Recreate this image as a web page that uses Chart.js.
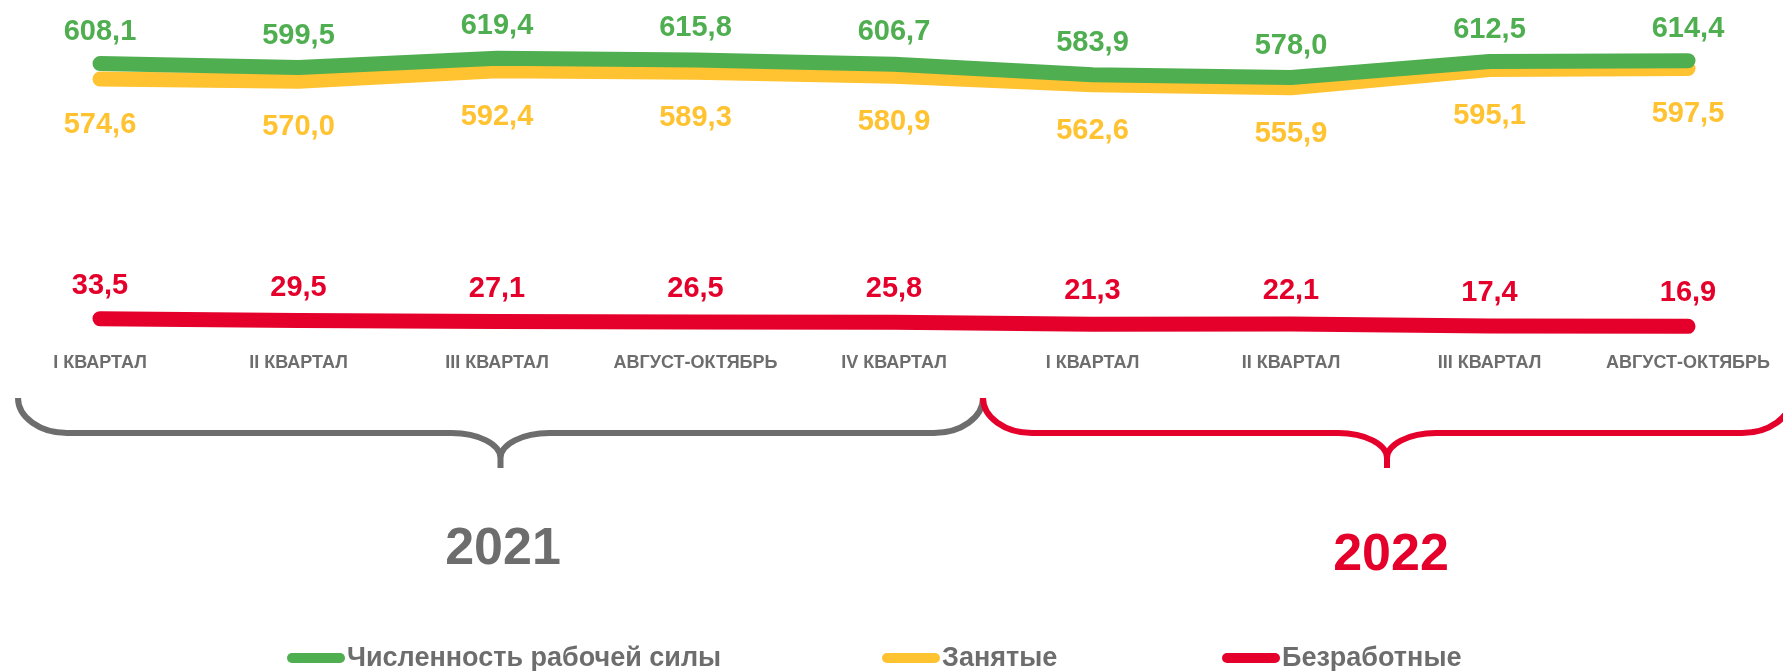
<!DOCTYPE html>
<html lang="ru">
<head>
<meta charset="utf-8">
<title>Рабочая сила</title>
<script src="https://cdn.jsdelivr.net/npm/chart.js@4.4.1/dist/chart.umd.min.js"></script>
<style>
  html, body { margin: 0; padding: 0; background: #fff; }
  #wrap { width: 1783px; height: 671px; }
</style>
</head>
<body>
<div id="wrap"><canvas id="chart" width="1783" height="671"></canvas></div>
<script>
const categories = ["I КВАРТАЛ", "II КВАРТАЛ", "III КВАРТАЛ", "АВГУСТ-ОКТЯБРЬ", "IV КВАРТАЛ",
                    "I КВАРТАЛ", "II КВАРТАЛ", "III КВАРТАЛ", "АВГУСТ-ОКТЯБРЬ"];
const labourForce = [608.1, 599.5, 619.4, 615.8, 606.7, 583.9, 578.0, 612.5, 614.4];
const employed = [574.6, 570.0, 592.4, 589.3, 580.9, 562.6, 555.9, 595.1, 597.5];
const unemployed = [33.5, 29.5, 27.1, 26.5, 25.8, 21.3, 22.1, 17.4, 16.9];
const seriesNames = ["Численность рабочей силы", "Занятые", "Безработные"];
const years = ["2021", "2022"];

const GREEN = "#4fae50";
const YELLOW = "#ffc230";
const RED = "#e4002b";
const GREY = "#6d6d6d";
const FONT = "'Liberation Sans', Arial, sans-serif";

Chart.defaults.font.family = FONT;

const fmt = v => v.toFixed(1).replace(".", ",");

// value labels: green and red above the line, yellow below
const valueLabels = {
  id: "valueLabels",
  afterDatasetsDraw(chart) {
    const ctx = chart.ctx;
    const offsets = [-32, 46, -33];
    ctx.save();
    ctx.font = "bold 29px " + FONT;
    ctx.textAlign = "center";
    ctx.textBaseline = "middle";
    chart.data.datasets.forEach((ds, i) => {
      ctx.fillStyle = ds.borderColor;
      chart.getDatasetMeta(i).data.forEach((pt, j) => {
        ctx.fillText(fmt(ds.data[j]), pt.x, pt.y + offsets[i]);
      });
    });
    ctx.restore();
  }
};

function brace(ctx, x0, x1, top, color) {
  const mid = (x0 + x1) / 2;
  const rx = 49, ry = 35, tx = 49, ty = 25, stub = 10;
  const h = top + ry;
  ctx.beginPath();
  ctx.moveTo(x0, top);
  ctx.bezierCurveTo(x0, top + ry * 0.55, x0 + rx * 0.45, h, x0 + rx, h);
  ctx.lineTo(mid - tx, h);
  ctx.bezierCurveTo(mid - tx * 0.45, h, mid, h + ty * 0.45, mid, h + ty);
  ctx.lineTo(mid, h + ty + stub);
  ctx.moveTo(mid, h + ty);
  ctx.bezierCurveTo(mid, h + ty * 0.45, mid + tx * 0.45, h, mid + tx, h);
  ctx.lineTo(x1 - rx, h);
  ctx.bezierCurveTo(x1 - rx * 0.45, h, x1, top + ry * 0.55, x1, top);
  ctx.strokeStyle = color;
  ctx.lineWidth = 6;
  ctx.lineCap = "butt";
  ctx.stroke();
}

// year braces, year captions and legend
const decor = {
  id: "decor",
  afterDraw(chart) {
    const ctx = chart.ctx;
    ctx.save();
    brace(ctx, 18, 983, 398, GREY);
    brace(ctx, 983, 1791, 398, RED);

    ctx.font = "bold 52px " + FONT;
    ctx.textAlign = "center";
    ctx.textBaseline = "middle";
    ctx.fillStyle = GREY;
    ctx.fillText(years[0], 503, 550);
    ctx.fillStyle = RED;
    ctx.fillText(years[1], 1391, 556);

    const legendX = [287, 882, 1222];
    const y = 659;
    ctx.font = "bold 27px " + FONT;
    ctx.textAlign = "left";
    chart.data.datasets.forEach((ds, i) => {
      const x = legendX[i];
      ctx.beginPath();
      ctx.moveTo(x + 5, y - 1);
      ctx.lineTo(x + 53, y - 1);
      ctx.lineWidth = 10;
      ctx.lineCap = "round";
      ctx.strokeStyle = ds.borderColor;
      ctx.stroke();
      ctx.fillStyle = GREY;
      ctx.fillText(ds.label, x + 60, y);
    });
    ctx.restore();
  }
};

const lineStyle = color => ({
  borderColor: color,
  backgroundColor: color,
  borderWidth: 15,
  borderCapStyle: "round",
  borderJoinStyle: "round",
  pointRadius: 0,
  pointHoverRadius: 0,
  tension: 0,
  clip: false
});

new Chart(document.getElementById("chart"), {
  type: "line",
  data: {
    labels: categories,
    datasets: [
      { label: seriesNames[0], data: labourForce, yAxisID: "y", ...lineStyle(GREEN) },
      { label: seriesNames[1], data: employed, yAxisID: "y", ...lineStyle(YELLOW) },
      { label: seriesNames[2], data: unemployed, yAxisID: "y1", ...lineStyle(RED) }
    ]
  },
  options: {
    responsive: false,
    animation: false,
    layout: { padding: { top: 21, left: 100, right: 86, bottom: 284 } },
    plugins: { legend: { display: false }, tooltip: { enabled: false } },
    scales: {
      x: {
        offset: false,
        grid: { display: false },
        border: { display: false },
        ticks: {
          autoSkip: false,
          maxRotation: 0,
          padding: 13,
          color: GREY,
          font: { size: 18, weight: "bold" }
        }
      },
      y: { display: false, min: 30, max: 700 },
      y1: { display: false, min: 6, max: 676 }
    }
  },
  plugins: [valueLabels, decor]
});
</script>
</body>
</html>
